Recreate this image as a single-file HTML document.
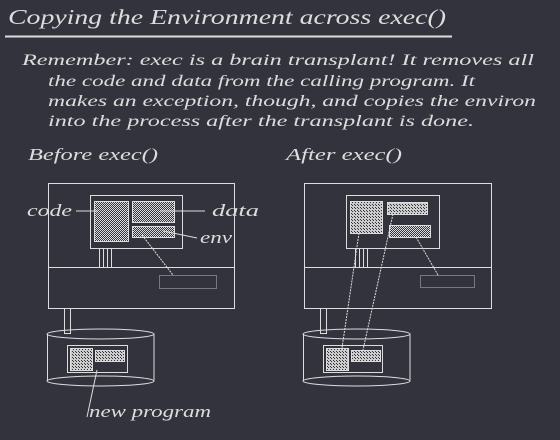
<!DOCTYPE html>
<html><head><style>html,body{margin:0;padding:0;background:#33333d;}svg{display:block}</style></head>
<body>
<svg width="560" height="440" viewBox="0 0 560 440" xmlns="http://www.w3.org/2000/svg">
<defs>
<pattern id="d1" width="2" height="2" patternUnits="userSpaceOnUse"><rect width="2" height="2" fill="#33333d"/><rect width="1" height="1" fill="#ddd"/><rect x="1" y="1" width="1" height="1" fill="#ddd"/></pattern>
<pattern id="d2" width="3" height="3" patternUnits="userSpaceOnUse"><rect width="3" height="3" fill="#ccc"/><rect width="1" height="1" fill="#33333d"/><rect x="1" y="1" width="1" height="1" fill="#33333d"/></pattern>
</defs>
<rect width="560" height="440" fill="#33333d"/>
<g font-family="Liberation Serif, serif" font-style="italic" fill="#ddd">
<text x="8" y="24" font-size="21" textLength="438" lengthAdjust="spacingAndGlyphs">Copying the Environment across exec()</text>
<text x="22" y="65" font-size="16" textLength="512" lengthAdjust="spacingAndGlyphs">Remember: exec is a brain transplant!  It removes all</text>
<text x="48" y="86" font-size="16" textLength="427" lengthAdjust="spacingAndGlyphs">the code and data from the calling program.  It</text>
<text x="48" y="106" font-size="16" textLength="488" lengthAdjust="spacingAndGlyphs">makes an exception, though, and copies the environ</text>
<text x="48" y="126" font-size="16" textLength="426" lengthAdjust="spacingAndGlyphs">into the process after the transplant is done.</text>
<text x="28" y="160" font-size="17" textLength="130" lengthAdjust="spacingAndGlyphs">Before exec()</text>
<text x="286" y="160" font-size="17" textLength="116" lengthAdjust="spacingAndGlyphs">After exec()</text>
<text x="27" y="216" font-size="17" textLength="45" lengthAdjust="spacingAndGlyphs">code</text>
<text x="212" y="216" font-size="17" textLength="47" lengthAdjust="spacingAndGlyphs">data</text>
<text x="200" y="243" font-size="17" textLength="32" lengthAdjust="spacingAndGlyphs">env</text>
<text x="89" y="417" font-size="17" textLength="122" lengthAdjust="spacingAndGlyphs">new program</text>
</g>
<line x1="5" y1="36.5" x2="452" y2="36.5" stroke="#ddd" stroke-width="2"/>
<g fill="none" stroke="#ddd" stroke-width="1">
<!-- left -->
<rect x="48.5" y="183.5" width="186" height="125"/>
<line x1="48" y1="267.5" x2="234" y2="267.5"/>
<rect x="90.5" y="195.5" width="92" height="53"/>
<rect x="94.5" y="201.5" width="34" height="40" fill="url(#d1)"/>
<rect x="132.5" y="201.5" width="42" height="21" fill="url(#d1)"/>
<rect x="132.5" y="226.5" width="42" height="11" fill="url(#d1)"/>
<rect x="159.5" y="275.5" width="57" height="13" stroke="#bbb" stroke-dasharray="1 1"/>
<line x1="99.5" y1="248" x2="99.5" y2="267"/><line x1="103.5" y1="248" x2="103.5" y2="267"/><line x1="107.5" y1="248" x2="107.5" y2="267"/><line x1="111.5" y1="248" x2="111.5" y2="267"/>
<rect x="64.5" y="308.5" width="6" height="25"/>
<ellipse cx="100.5" cy="334" rx="53.5" ry="5"/>
<ellipse cx="100.5" cy="381" rx="53.5" ry="5"/>
<line x1="47.5" y1="334" x2="47.5" y2="381"/><line x1="154" y1="334" x2="154" y2="381"/>
<rect x="67.5" y="345.5" width="60" height="27"/>
<rect x="70.5" y="348.5" width="22" height="22" fill="url(#d2)"/>
<rect x="95.5" y="350.5" width="29" height="11" fill="url(#d2)"/>
<line x1="76" y1="211" x2="98" y2="211"/>
<line x1="160" y1="211" x2="205" y2="211"/>
<line x1="163" y1="231" x2="197" y2="238"/>
<line x1="142" y1="235" x2="173" y2="275" stroke-dasharray="2 1"/>
<line x1="97" y1="370" x2="87" y2="417"/>
<!-- right -->
<rect x="304.5" y="183.5" width="187" height="125"/>
<line x1="304" y1="267.5" x2="491" y2="267.5"/>
<rect x="346.5" y="195.5" width="93" height="53"/>
<rect x="350.5" y="201.5" width="32" height="32" fill="url(#d2)"/>
<rect x="387.5" y="202.5" width="40" height="12" fill="url(#d2)"/>
<rect x="389.5" y="225.5" width="41" height="12" fill="url(#d1)"/>
<rect x="420.5" y="275.5" width="54" height="12" stroke="#bbb" stroke-dasharray="1 1"/>
<line x1="355.5" y1="248" x2="355.5" y2="267"/><line x1="359.5" y1="248" x2="359.5" y2="267"/><line x1="363.5" y1="248" x2="363.5" y2="267"/><line x1="367.5" y1="248" x2="367.5" y2="267"/>
<rect x="320.5" y="308.5" width="6" height="25"/>
<ellipse cx="356.5" cy="334" rx="53.5" ry="5"/>
<ellipse cx="356.5" cy="381" rx="53.5" ry="5"/>
<line x1="303.5" y1="334" x2="303.5" y2="381"/><line x1="410" y1="334" x2="410" y2="381"/>
<rect x="323.5" y="345.5" width="59" height="27"/>
<rect x="326.5" y="348.5" width="22" height="22" fill="url(#d2)"/>
<rect x="351.5" y="350.5" width="29" height="11" fill="url(#d2)"/>
<line x1="359" y1="233" x2="342" y2="348" stroke-dasharray="2 1"/>
<line x1="393" y1="214" x2="363" y2="350" stroke-dasharray="2 1"/>
<line x1="416" y1="237" x2="438" y2="275" stroke-dasharray="2 1"/>
</g>
</svg>
</body></html>
